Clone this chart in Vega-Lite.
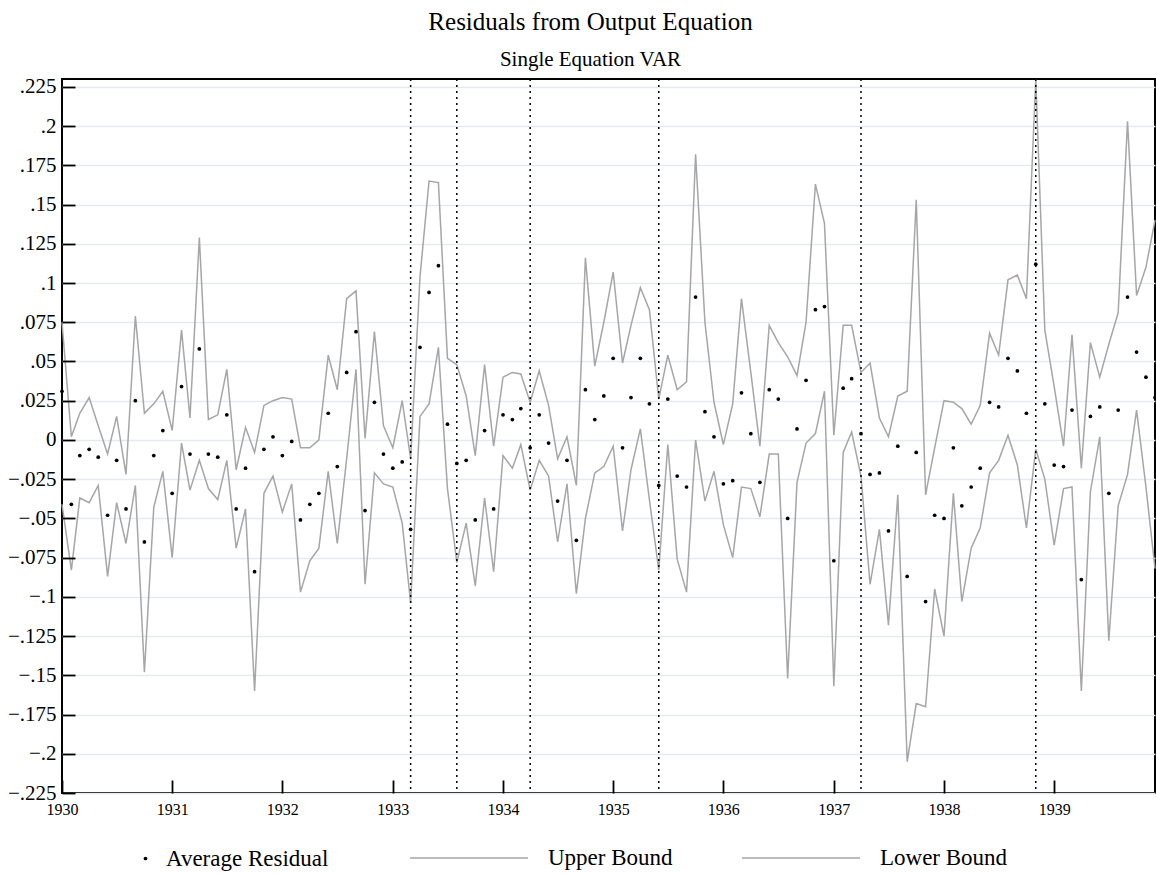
{
  "$schema": "https://vega.github.io/schema/vega-lite/v6.json",
  "width": 1093,
  "height": 714,
  "autosize": "none",
  "padding": {"left": 62, "top": 79, "right": 1, "bottom": 81},
  "background": "white",
  "title": {
    "text": "Residuals from Output Equation",
    "subtitle": "Single Equation VAR",
    "anchor": "middle",
    "dx": -18,
    "offset": 6,
    "font": "Liberation Serif",
    "fontSize": 25,
    "fontWeight": "normal",
    "color": "black",
    "subtitleFont": "Liberation Serif",
    "subtitleFontSize": 21,
    "subtitleColor": "black",
    "subtitlePadding": 14
  },
  "config": {
    "view": {"stroke": "black", "strokeWidth": 2},
    "axis": {
      "labelFont": "Liberation Serif",
      "labelColor": "black",
      "domain": false,
      "ticks": true,
      "tickColor": "black",
      "tickWidth": 1.6,
      "tickSize": 13,
      "offset": -13,
      "title": null
    },
    "legend": {
      "padding": 0,
      "labelFont": "Liberation Serif",
      "labelFontSize": 23,
      "labelColor": "black",
      "labelLimit": 500,
      "title": null
    }
  },
  "resolve": {"axis": {"y": "independent"}},
  "data": {
    "values": [
      {"d": "1930-01-01", "avg": 0.031, "up": 0.075, "lo": -0.041},
      {"d": "1930-02-01", "avg": -0.041, "up": 0.002, "lo": -0.083},
      {"d": "1930-03-01", "avg": -0.010, "up": 0.017, "lo": -0.037},
      {"d": "1930-04-01", "avg": -0.006, "up": 0.027, "lo": -0.040},
      {"d": "1930-05-01", "avg": -0.011, "up": 0.009, "lo": -0.029},
      {"d": "1930-06-01", "avg": -0.048, "up": -0.009, "lo": -0.087},
      {"d": "1930-07-01", "avg": -0.013, "up": 0.015, "lo": -0.040},
      {"d": "1930-08-01", "avg": -0.044, "up": -0.022, "lo": -0.066},
      {"d": "1930-09-01", "avg": 0.025, "up": 0.079, "lo": -0.029},
      {"d": "1930-10-01", "avg": -0.065, "up": 0.017, "lo": -0.148},
      {"d": "1930-11-01", "avg": -0.010, "up": 0.023, "lo": -0.043},
      {"d": "1930-12-01", "avg": 0.006, "up": 0.031, "lo": -0.020},
      {"d": "1931-01-01", "avg": -0.034, "up": 0.006, "lo": -0.075},
      {"d": "1931-02-01", "avg": 0.034, "up": 0.070, "lo": -0.002},
      {"d": "1931-03-01", "avg": -0.009, "up": 0.014, "lo": -0.032},
      {"d": "1931-04-01", "avg": 0.058, "up": 0.129, "lo": -0.013},
      {"d": "1931-05-01", "avg": -0.009, "up": 0.013, "lo": -0.031},
      {"d": "1931-06-01", "avg": -0.011, "up": 0.016, "lo": -0.038},
      {"d": "1931-07-01", "avg": 0.016, "up": 0.045, "lo": -0.013},
      {"d": "1931-08-01", "avg": -0.044, "up": -0.019, "lo": -0.069},
      {"d": "1931-09-01", "avg": -0.018, "up": 0.008, "lo": -0.044},
      {"d": "1931-10-01", "avg": -0.084, "up": -0.008, "lo": -0.160},
      {"d": "1931-11-01", "avg": -0.006, "up": 0.022, "lo": -0.034},
      {"d": "1931-12-01", "avg": 0.002, "up": 0.025, "lo": -0.023},
      {"d": "1932-01-01", "avg": -0.010, "up": 0.027, "lo": -0.046},
      {"d": "1932-02-01", "avg": -0.001, "up": 0.026, "lo": -0.028},
      {"d": "1932-03-01", "avg": -0.051, "up": -0.005, "lo": -0.097},
      {"d": "1932-04-01", "avg": -0.041, "up": -0.005, "lo": -0.077},
      {"d": "1932-05-01", "avg": -0.034, "up": 0.000, "lo": -0.069},
      {"d": "1932-06-01", "avg": 0.017, "up": 0.054, "lo": -0.020},
      {"d": "1932-07-01", "avg": -0.017, "up": 0.032, "lo": -0.066},
      {"d": "1932-08-01", "avg": 0.043, "up": 0.090, "lo": -0.012},
      {"d": "1932-09-01", "avg": 0.069, "up": 0.095, "lo": 0.045},
      {"d": "1932-10-01", "avg": -0.045, "up": 0.001, "lo": -0.092},
      {"d": "1932-11-01", "avg": 0.024, "up": 0.069, "lo": -0.021},
      {"d": "1932-12-01", "avg": -0.009, "up": 0.009, "lo": -0.028},
      {"d": "1933-01-01", "avg": -0.018, "up": -0.005, "lo": -0.030},
      {"d": "1933-02-01", "avg": -0.014, "up": 0.025, "lo": -0.053},
      {"d": "1933-03-01", "avg": -0.057, "up": -0.012, "lo": -0.104},
      {"d": "1933-04-01", "avg": 0.059, "up": 0.104, "lo": 0.015},
      {"d": "1933-05-01", "avg": 0.094, "up": 0.165, "lo": 0.023},
      {"d": "1933-06-01", "avg": 0.111, "up": 0.164, "lo": 0.059},
      {"d": "1933-07-01", "avg": 0.010, "up": 0.052, "lo": -0.031},
      {"d": "1933-08-01", "avg": -0.015, "up": 0.048, "lo": -0.078},
      {"d": "1933-09-01", "avg": -0.013, "up": 0.028, "lo": -0.053},
      {"d": "1933-10-01", "avg": -0.051, "up": -0.010, "lo": -0.093},
      {"d": "1933-11-01", "avg": 0.006, "up": 0.048, "lo": -0.037},
      {"d": "1933-12-01", "avg": -0.044, "up": -0.004, "lo": -0.084},
      {"d": "1934-01-01", "avg": 0.016, "up": 0.040, "lo": -0.010},
      {"d": "1934-02-01", "avg": 0.013, "up": 0.043, "lo": -0.018},
      {"d": "1934-03-01", "avg": 0.020, "up": 0.042, "lo": -0.003},
      {"d": "1934-04-01", "avg": -0.005, "up": 0.024, "lo": -0.032},
      {"d": "1934-05-01", "avg": 0.016, "up": 0.044, "lo": -0.013},
      {"d": "1934-06-01", "avg": -0.002, "up": 0.022, "lo": -0.023},
      {"d": "1934-07-01", "avg": -0.039, "up": -0.012, "lo": -0.065},
      {"d": "1934-08-01", "avg": -0.013, "up": 0.002, "lo": -0.028},
      {"d": "1934-09-01", "avg": -0.064, "up": -0.029, "lo": -0.098},
      {"d": "1934-10-01", "avg": 0.032, "up": 0.116, "lo": -0.050},
      {"d": "1934-11-01", "avg": 0.013, "up": 0.047, "lo": -0.021},
      {"d": "1934-12-01", "avg": 0.028, "up": 0.075, "lo": -0.017},
      {"d": "1935-01-01", "avg": 0.052, "up": 0.107, "lo": -0.004},
      {"d": "1935-02-01", "avg": -0.005, "up": 0.049, "lo": -0.058},
      {"d": "1935-03-01", "avg": 0.027, "up": 0.073, "lo": -0.019},
      {"d": "1935-04-01", "avg": 0.052, "up": 0.097, "lo": 0.007},
      {"d": "1935-05-01", "avg": 0.023, "up": 0.083, "lo": -0.038},
      {"d": "1935-06-01", "avg": -0.029, "up": 0.026, "lo": -0.083},
      {"d": "1935-07-01", "avg": 0.026, "up": 0.054, "lo": -0.003},
      {"d": "1935-08-01", "avg": -0.023, "up": 0.032, "lo": -0.076},
      {"d": "1935-09-01", "avg": -0.030, "up": 0.037, "lo": -0.097},
      {"d": "1935-10-01", "avg": 0.091, "up": 0.182, "lo": 0.000},
      {"d": "1935-11-01", "avg": 0.018, "up": 0.075, "lo": -0.039},
      {"d": "1935-12-01", "avg": 0.002, "up": 0.024, "lo": -0.020},
      {"d": "1936-01-01", "avg": -0.028, "up": -0.003, "lo": -0.054},
      {"d": "1936-02-01", "avg": -0.026, "up": 0.023, "lo": -0.075},
      {"d": "1936-03-01", "avg": 0.030, "up": 0.090, "lo": -0.030},
      {"d": "1936-04-01", "avg": 0.004, "up": 0.043, "lo": -0.031},
      {"d": "1936-05-01", "avg": -0.027, "up": -0.004, "lo": -0.049},
      {"d": "1936-06-01", "avg": 0.032, "up": 0.073, "lo": -0.009},
      {"d": "1936-07-01", "avg": 0.026, "up": 0.062, "lo": -0.009},
      {"d": "1936-08-01", "avg": -0.050, "up": 0.053, "lo": -0.152},
      {"d": "1936-09-01", "avg": 0.007, "up": 0.041, "lo": -0.027},
      {"d": "1936-10-01", "avg": 0.038, "up": 0.075, "lo": -0.002},
      {"d": "1936-11-01", "avg": 0.083, "up": 0.163, "lo": 0.004},
      {"d": "1936-12-01", "avg": 0.085, "up": 0.138, "lo": 0.031},
      {"d": "1937-01-01", "avg": -0.077, "up": 0.003, "lo": -0.157},
      {"d": "1937-02-01", "avg": 0.033, "up": 0.073, "lo": -0.008},
      {"d": "1937-03-01", "avg": 0.039, "up": 0.073, "lo": 0.005},
      {"d": "1937-04-01", "avg": 0.004, "up": 0.043, "lo": -0.023},
      {"d": "1937-05-01", "avg": -0.022, "up": 0.049, "lo": -0.092},
      {"d": "1937-06-01", "avg": -0.021, "up": 0.014, "lo": -0.057},
      {"d": "1937-07-01", "avg": -0.058, "up": 0.002, "lo": -0.118},
      {"d": "1937-08-01", "avg": -0.004, "up": 0.028, "lo": -0.035},
      {"d": "1937-09-01", "avg": -0.087, "up": 0.031, "lo": -0.205},
      {"d": "1937-10-01", "avg": -0.008, "up": 0.153, "lo": -0.168},
      {"d": "1937-11-01", "avg": -0.103, "up": -0.035, "lo": -0.170},
      {"d": "1937-12-01", "avg": -0.048, "up": -0.005, "lo": -0.095},
      {"d": "1938-01-01", "avg": -0.050, "up": 0.025, "lo": -0.125},
      {"d": "1938-02-01", "avg": -0.005, "up": 0.024, "lo": -0.034},
      {"d": "1938-03-01", "avg": -0.042, "up": 0.020, "lo": -0.103},
      {"d": "1938-04-01", "avg": -0.030, "up": 0.010, "lo": -0.069},
      {"d": "1938-05-01", "avg": -0.018, "up": 0.022, "lo": -0.056},
      {"d": "1938-06-01", "avg": 0.024, "up": 0.068, "lo": -0.021},
      {"d": "1938-07-01", "avg": 0.021, "up": 0.054, "lo": -0.013},
      {"d": "1938-08-01", "avg": 0.052, "up": 0.102, "lo": 0.003},
      {"d": "1938-09-01", "avg": 0.044, "up": 0.105, "lo": -0.016},
      {"d": "1938-10-01", "avg": 0.017, "up": 0.090, "lo": -0.056},
      {"d": "1938-11-01", "avg": 0.112, "up": 0.230, "lo": -0.006},
      {"d": "1938-12-01", "avg": 0.023, "up": 0.070, "lo": -0.025},
      {"d": "1939-01-01", "avg": -0.016, "up": 0.034, "lo": -0.067},
      {"d": "1939-02-01", "avg": -0.017, "up": -0.004, "lo": -0.031},
      {"d": "1939-03-01", "avg": 0.019, "up": 0.067, "lo": -0.030},
      {"d": "1939-04-01", "avg": -0.089, "up": -0.018, "lo": -0.160},
      {"d": "1939-05-01", "avg": 0.015, "up": 0.062, "lo": -0.033},
      {"d": "1939-06-01", "avg": 0.021, "up": 0.040, "lo": 0.002},
      {"d": "1939-07-01", "avg": -0.034, "up": 0.061, "lo": -0.128},
      {"d": "1939-08-01", "avg": 0.019, "up": 0.081, "lo": -0.042},
      {"d": "1939-09-01", "avg": 0.091, "up": 0.203, "lo": -0.022},
      {"d": "1939-10-01", "avg": 0.056, "up": 0.092, "lo": 0.019},
      {"d": "1939-11-01", "avg": 0.040, "up": 0.110, "lo": -0.030},
      {"d": "1939-12-01", "avg": 0.027, "up": 0.140, "lo": -0.082}
    ]
  },
  "encoding": {
    "x": {
      "field": "d",
      "type": "temporal",
      "scale": {
        "type": "utc",
        "nice": false,
        "domain": [
          {"year": 1930, "month": 1, "date": 1, "utc": true},
          {"year": 1939, "month": 12, "date": 1, "utc": true}
        ]
      },
      "axis": {
        "format": "%Y",
        "formatType": "utc",
        "tickCount": {"interval": "year", "step": 1},
        "labelFontSize": 16,
        "labelPadding": 8,
        "labelFlush": false,
        "labelOverlap": false,
        "grid": false,
        "ticks": true,
        "tickColor": "black",
        "tickOpacity": 1,
        "tickWidth": 1.8,
        "zindex": 1
      }
    }
  },
  "layer": [
    {
      "mark": {"type": "line", "strokeWidth": 1.5},
      "encoding": {
        "y": {
          "field": "up",
          "type": "quantitative",
          "scale": {"domain": [-0.225, 0.23], "nice": false, "zero": false},
          "axis": {
            "orient": "left",
            "values": [-0.225, -0.2, -0.175, -0.15, -0.125, -0.1, -0.075, -0.05, -0.025, 0, 0.025, 0.05, 0.075, 0.1, 0.125, 0.15, 0.175, 0.2, 0.225],
            "tickCount": 40,
            "labels": false,
            "ticks": false,
            "domain": false,
            "offset": 0,
            "grid": true,
            "gridColor": "#e3ebee",
            "gridWidth": 1.6,
            "zindex": 0
          }
        },
        "stroke": {
          "datum": "Upper Bound",
          "scale": {
            "domain": ["Upper Bound", "Lower Bound"],
            "range": ["#a6a6a6", "#a6a6a6"]
          },
          "legend": {
            "orient": "none",
            "direction": "horizontal",
            "legendX": 347,
            "legendY": 719,
            "symbolType": "stroke",
            "symbolSize": 13924,
            "symbolStrokeWidth": 1.5,
            "labelOffset": 19,
            "columnPadding": 66
          }
        }
      }
    },
    {
      "mark": {"type": "line", "strokeWidth": 1.5},
      "encoding": {
        "y": {
          "field": "lo",
          "type": "quantitative",
          "axis": {
            "orient": "left",
            "values": [-0.225, -0.2, -0.175, -0.15, -0.125, -0.1, -0.075, -0.05, -0.025, 0, 0.025, 0.05, 0.075, 0.1, 0.125, 0.15, 0.175, 0.2, 0.225],
            "tickCount": 40,
            "labelExpr": "replace(format(datum.value, '.3~f'), '0.', '.')",
            "labelFontSize": 21,
            "labelPadding": 6,
            "labelOverlap": false,
            "grid": false,
            "ticks": true,
            "tickColor": "black",
            "tickOpacity": 1,
            "tickWidth": 1.8,
            "zindex": 1
          }
        },
        "stroke": {"datum": "Lower Bound"}
      }
    },
    {
      "mark": {"type": "rule", "color": "black", "strokeWidth": 2.5},
      "encoding": {"y": {"datum": 0, "type": "quantitative", "axis": null}}
    },
    {
      "data": {
        "values": [
          {"d": "1933-03-01"},
          {"d": "1933-08-01"},
          {"d": "1934-04-01"},
          {"d": "1935-06-01"},
          {"d": "1937-04-01"},
          {"d": "1938-11-01"}
        ]
      },
      "mark": {"type": "rule", "color": "black", "strokeWidth": 1.5, "strokeDash": [2, 4]},
      "encoding": {"x": {"field": "d", "type": "temporal"}}
    },
    {
      "mark": {"type": "point", "filled": true, "size": 14, "opacity": 1},
      "encoding": {
        "y": {"field": "avg", "type": "quantitative", "axis": null},
        "fill": {
          "datum": "Average Residual",
          "scale": {"domain": ["Average Residual"], "range": ["black"]},
          "legend": {
            "orient": "none",
            "direction": "horizontal",
            "legendX": 72,
            "legendY": 768,
            "symbolType": "circle",
            "symbolSize": 14,
            "labelOffset": 9
          }
        }
      }
    }
  ]
}
